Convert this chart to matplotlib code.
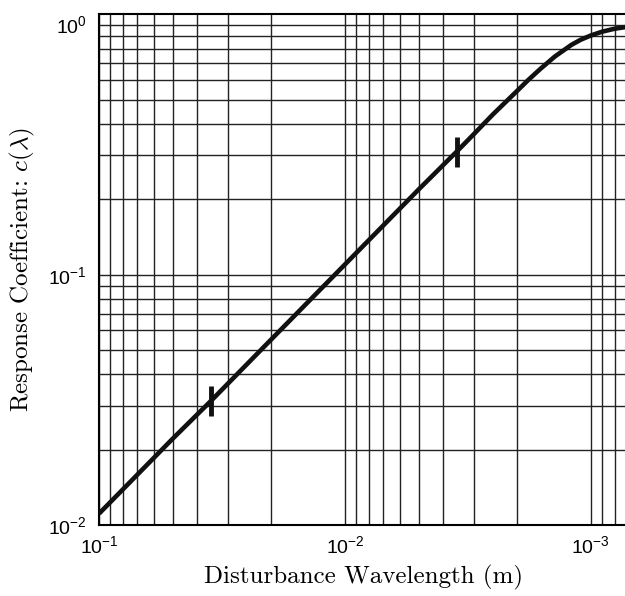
import matplotlib
matplotlib.use('Agg')
import matplotlib.pyplot as plt
from matplotlib.ticker import NullFormatter, LogLocator

plt.rcParams['mathtext.fontset'] = 'custom'
plt.rcParams['mathtext.rm'] = 'Liberation Sans'
plt.rcParams['mathtext.it'] = 'Liberation Sans:italic'
plt.rcParams['font.family'] = 'Liberation Sans'

# curve: wavelength (m) vs response coefficient
wavelength = [0.1, 0.05, 0.0351, 0.02, 0.01, 0.005, 0.00351, 0.003, 0.0025,
              0.002, 0.0018, 0.0016, 0.0014, 0.0012, 0.0011, 0.001, 0.0009,
              0.0008, 0.00073, 0.0007]
coeff = [0.0111, 0.0222, 0.0313, 0.055, 0.11, 0.22, 0.311, 0.364, 0.438,
         0.542, 0.600, 0.667, 0.746, 0.83, 0.87, 0.905, 0.937,
         0.963, 0.976, 0.981]

# the two marked points
mark_wl = [0.0351, 0.00351]
mark_c = [0.0313, 0.311]

fig = plt.figure(figsize=(6.25, 5.96), dpi=100)
ax = fig.add_axes([0.1584, 0.1191, 0.848, 0.857])

ax.plot(wavelength, coeff, color='#111111', lw=3.3, solid_capstyle='butt',
        solid_joinstyle='round', zorder=3)
ax.plot(mark_wl, mark_c, ls='none', marker='|', ms=22, mew=3.5, color='#111111', zorder=4)

ax.set_xscale('log')
ax.set_yscale('log')
ax.set_xlim(0.1, 7e-4)
ax.set_ylim(0.01, 1.1)

ax.xaxis.set_major_locator(LogLocator(base=10, numticks=10))
ax.yaxis.set_major_locator(LogLocator(base=10, numticks=10))
ax.xaxis.set_minor_locator(LogLocator(base=10, subs=range(2, 10), numticks=20))
ax.yaxis.set_minor_locator(LogLocator(base=10, subs=range(2, 10), numticks=20))
ax.xaxis.set_minor_formatter(NullFormatter())
ax.yaxis.set_minor_formatter(NullFormatter())

ax.grid(True, which='both', color='#222222', lw=1.0)
ax.tick_params(which='both', length=0, labelsize=14, colors='black')
ax.tick_params(axis='x', pad=7)
ax.tick_params(axis='y', pad=9)

for s in ax.spines.values():
    s.set_linewidth(1.5)
    s.set_color('black')

ax.set_xlabel('Disturbance Wavelength (m)', family='cmr10', fontsize=18,
              labelpad=6)
ax.set_ylabel(r'Response Coefficient: $c(\lambda)$', family='cmr10', fontsize=18,
              math_fontfamily='cm', labelpad=8)

fig.savefig('out.png', dpi=100)
